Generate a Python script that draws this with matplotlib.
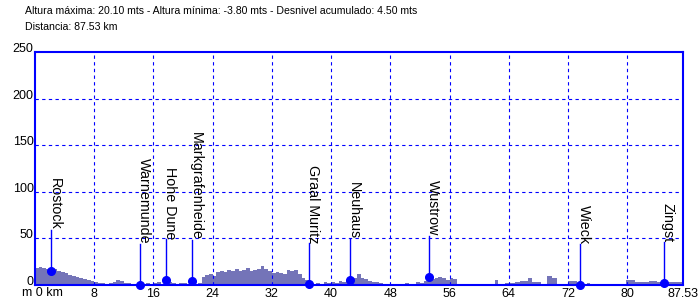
import numpy as np
import matplotlib
matplotlib.use('Agg')
import matplotlib.pyplot as plt

# profile: km -> altitude (m), drawn as steps
km = [0, 0.5, 1, 1.5, 2, 2.5, 3, 3.5, 4, 4.5, 5, 5.5, 6, 6.5, 7, 7.5, 8, 8.5,
      9.5, 10, 10.5, 11, 11.5, 12, 13, 13.5, 14, 14.5, 15, 15.5, 16, 16.5, 17,
      17.5, 18, 18.5, 19, 19.5, 20.5, 21, 21.5, 22, 22.5, 23, 23.5, 24, 24.5,
      25, 25.5, 26, 26.5, 27, 27.5, 28, 28.5, 29, 29.5, 30, 30.5, 31, 31.5, 32,
      32.5, 33, 33.5, 34, 34.5, 35, 35.5, 36, 36.5, 37, 37.5, 38, 38.5, 39,
      39.5, 40, 40.5, 41, 41.5, 42, 42.5, 43, 43.5, 44, 44.5, 45, 45.5, 46.5,
      47, 47.5, 48, 49, 49.5, 50, 50.5, 51, 51.5, 52, 52.5, 53, 53.5, 54, 54.5,
      55, 55.5, 56, 56.5, 57, 62.2, 62.6, 63.5, 64.8, 65.5, 66.6, 67.1, 68.4,
      69.1, 69.8, 70.5, 72, 73.2, 74.5, 75, 79.8, 81.1, 82, 83, 84, 85, 86, 87,
      87.53]
alt = [18, 19, 18, 17, 16, 17, 15, 14, 13, 11, 10, 9, 8, 6, 5, 4, 3, 2,
       1.5, 2, 3, 5, 4, 2, 1.5, 1, 0.5, 1, 2, 1, 2, 3, 1.5,
       2, 3, 2, 1.5, 2, 1.5, 2, 1, 2, 9, 11, 12, 10, 14,
       15, 14, 16, 15, 17, 15, 16, 18, 15, 16, 17, 20, 17, 15, 13,
       14, 13, 12, 16, 15, 16, 12, 8, 5, 2, 1.5, 2, 1, 3,
       2, 3, 2, 4, 3, 4, 5, 8, 12, 7, 6, 4, 3, 2,
       1, 1.5, 1, 1.5, 1, 2, 1, 1.5, 3, 2, 4, 7, 6, 8, 9,
       7, 5, 7, 6, 0, 5, 1, 2, 3.5, 4, 8, 3, 1,
       10, 7, 0, 4, 1.5, 2, 0, 5, 3.5, 3, 4, 3.5, 3, 3.5, 3,
       3]

towns = ['Rostock', 'Warnemunde', 'Hohe Dune', 'Markgrafenheide', 'Graal Muritz',
         'Neuhaus', 'Wustrow', 'Wieck', 'Zingst']
town_km = [2.2, 14.2, 17.65, 21.25, 37.0, 42.5, 53.2, 73.55, 84.9]
town_alt = [15, 0, 5, 4, 1, 5, 9, 0, 2.5]

total_km = 87.53
xticks = [8, 16, 24, 32, 40, 48, 56, 64, 72, 80]
yticks = [0, 50, 100, 150, 200, 250]

blue = '#0000FF'
line_len = 44   # length of the town marker stick, in metres

fig = plt.figure(figsize=(7, 3), dpi=100)
ax = fig.add_axes([35/700, 15/300, 648/700, 233/300])

ax.fill_between(km, alt, 0, step='post', color='#7474B8', linewidth=0)

for x in xticks:
    ax.axvline(x, color=blue, lw=0.8, ls=(0, (3, 3)), zorder=1)
for y in yticks[1:-1]:
    ax.axhline(y, color=blue, lw=0.8, ls=(0, (3, 3)), zorder=1)

for name, x, y in zip(towns, town_km, town_alt):
    ax.plot([x, x], [y, y + line_len], color=blue, lw=1, zorder=3)
    ax.plot(x, y, 'o', color=blue, ms=5.5, zorder=4, clip_on=False)
    ax.text(x, y + line_len, name, rotation=-90, rotation_mode='anchor',
            ha='right', va='baseline', fontsize=10.3, family='Liberation Sans')

ax.set_xlim(0, total_km)
ax.set_ylim(0, 250)
ax.set_xticks(xticks + [total_km])
ax.set_xticklabels([str(x) for x in xticks] + ['87.53'])
ax.set_yticks(yticks)
ax.tick_params(length=0, labelsize=9, pad=2)
ax.tick_params(axis='y', pad=1)
for lbl in ax.get_xticklabels() + ax.get_yticklabels():
    lbl.set_family('Liberation Sans')
for lbl in ax.get_yticklabels():
    lbl.set_va('baseline')
for s in ax.spines.values():
    s.set_color(blue)
    s.set_linewidth(1.5)

fig.text(22/700, 1 - 293/300, 'm 0 km', fontsize=9, family='Liberation Sans',
         va='center', ha='left')
fig.text(25/700, 1 - 11/300,
         'Altura máxima: 20.10 mts - Altura mínima: -3.80 mts - Desnivel acumulado: 4.50 mts',
         fontsize=7.6, family='Liberation Sans', va='center')
fig.text(25/700, 1 - 27/300, 'Distancia: 87.53 km',
         fontsize=7.6, family='Liberation Sans', va='center')

fig.savefig('out.png', dpi=100)
